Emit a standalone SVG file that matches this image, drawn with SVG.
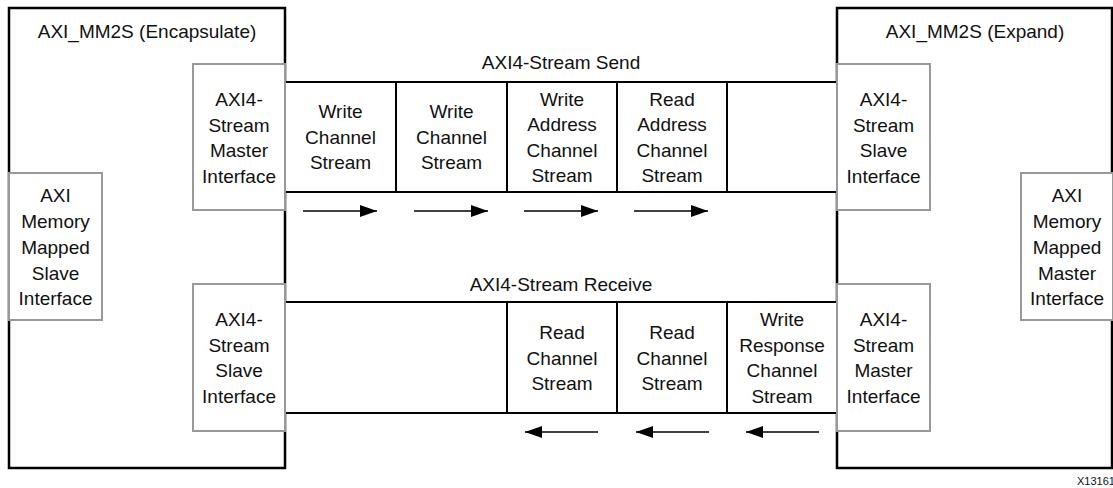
<svg xmlns="http://www.w3.org/2000/svg" width="1113" height="488" viewBox="0 0 1113 488">
  <defs>
    <style>
      .core { fill: #ffffff; stroke: #000000; stroke-width: 2.5; }
      .port { fill: #ffffff; stroke: #999999; stroke-width: 2; }
      .cell { fill: #ffffff; stroke: #000000; stroke-width: 2; }
      .flow { stroke: #000000; stroke-width: 1.5; fill: none; }
      text { font-family: "Liberation Sans", Arial, sans-serif; font-size: 19px; fill: #111111; text-anchor: middle; }
      .tag { font-size: 11px; text-anchor: start; }
    </style>
    <marker id="head" viewBox="0 0 17 12" refX="17" refY="6" markerWidth="17" markerHeight="12" markerUnits="userSpaceOnUse" orient="auto">
      <path d="M0,0 L17,6 L0,12 Z" fill="#000000"/>
    </marker>
  </defs>

  <!-- encapsulating core -->
  <g id="core-encapsulate">
    <rect class="core" x="9" y="8" width="276" height="460"/>
    <text x="147" y="38">AXI_MM2S (Encapsulate)</text>
  </g>

  <!-- expanding core -->
  <g id="core-expand">
    <rect class="core" x="837" y="8" width="275" height="460"/>
    <text x="975" y="38">AXI_MM2S (Expand)</text>
  </g>

  <!-- send stream -->
  <g id="stream-send">
    <text x="561" y="69">AXI4-Stream Send</text>
    <rect class="cell" x="285" y="82" width="552" height="110"/>
  </g>
  <g id="send-write-channel-1">
    <rect class="cell" x="285" y="82" width="111" height="110"/>
    <text x="340.5"><tspan x="340.5" y="118">Write</tspan><tspan x="340.5" y="143.5">Channel</tspan><tspan x="340.5" y="169">Stream</tspan></text>
  </g>
  <g id="send-write-channel-2">
    <rect class="cell" x="396" y="82" width="111" height="110"/>
    <text x="451.5"><tspan x="451.5" y="118">Write</tspan><tspan x="451.5" y="143.5">Channel</tspan><tspan x="451.5" y="169">Stream</tspan></text>
  </g>
  <g id="send-write-address">
    <rect class="cell" x="507" y="82" width="110" height="110"/>
    <text x="562"><tspan x="562" y="105.5">Write</tspan><tspan x="562" y="131">Address</tspan><tspan x="562" y="156.5">Channel</tspan><tspan x="562" y="182">Stream</tspan></text>
  </g>
  <g id="send-read-address">
    <rect class="cell" x="617" y="82" width="110" height="110"/>
    <text x="672"><tspan x="672" y="105.5">Read</tspan><tspan x="672" y="131">Address</tspan><tspan x="672" y="156.5">Channel</tspan><tspan x="672" y="182">Stream</tspan></text>
  </g>
  <g id="send-empty">
    <rect class="cell" x="727" y="82" width="110" height="110"/>
  </g>

  <!-- receive stream -->
  <g id="stream-receive">
    <text x="561" y="291">AXI4-Stream Receive</text>
    <rect class="cell" x="285" y="302" width="552" height="111"/>
  </g>
  <g id="receive-empty">
    <rect class="cell" x="285" y="302" width="222" height="111"/>
  </g>
  <g id="receive-read-channel-1">
    <rect class="cell" x="507" y="302" width="110" height="111"/>
    <text x="562"><tspan x="562" y="339">Read</tspan><tspan x="562" y="364.5">Channel</tspan><tspan x="562" y="390">Stream</tspan></text>
  </g>
  <g id="receive-read-channel-2">
    <rect class="cell" x="617" y="302" width="110" height="111"/>
    <text x="672"><tspan x="672" y="339">Read</tspan><tspan x="672" y="364.5">Channel</tspan><tspan x="672" y="390">Stream</tspan></text>
  </g>
  <g id="receive-write-response">
    <rect class="cell" x="727" y="302" width="110" height="111"/>
    <text x="782"><tspan x="782" y="326">Write</tspan><tspan x="782" y="351.5">Response</tspan><tspan x="782" y="377">Channel</tspan><tspan x="782" y="402.5">Stream</tspan></text>
  </g>

  <!-- interface ports -->
  <g id="port-mm-slave">
    <rect class="port" x="9" y="173" width="93" height="147"/>
    <text x="55.5"><tspan x="55.5" y="202">AXI</tspan><tspan x="55.5" y="228">Memory</tspan><tspan x="55.5" y="254">Mapped</tspan><tspan x="55.5" y="279.5">Slave</tspan><tspan x="55.5" y="305">Interface</tspan></text>
  </g>
  <g id="port-axis-master-left">
    <rect class="port" x="193" y="64" width="92" height="146"/>
    <text x="239"><tspan x="239" y="106">AXI4-</tspan><tspan x="239" y="131.5">Stream</tspan><tspan x="239" y="157">Master</tspan><tspan x="239" y="182.5">Interface</tspan></text>
  </g>
  <g id="port-axis-slave-left">
    <rect class="port" x="193" y="284" width="92" height="147"/>
    <text x="239"><tspan x="239" y="326">AXI4-</tspan><tspan x="239" y="351.5">Stream</tspan><tspan x="239" y="377">Slave</tspan><tspan x="239" y="402.5">Interface</tspan></text>
  </g>
  <g id="port-axis-slave-right">
    <rect class="port" x="837" y="64" width="93" height="146"/>
    <text x="883.5"><tspan x="883.5" y="106">AXI4-</tspan><tspan x="883.5" y="131.5">Stream</tspan><tspan x="883.5" y="157">Slave</tspan><tspan x="883.5" y="182.5">Interface</tspan></text>
  </g>
  <g id="port-axis-master-right">
    <rect class="port" x="837" y="284" width="93" height="147"/>
    <text x="883.5"><tspan x="883.5" y="326">AXI4-</tspan><tspan x="883.5" y="351.5">Stream</tspan><tspan x="883.5" y="377">Master</tspan><tspan x="883.5" y="402.5">Interface</tspan></text>
  </g>
  <g id="port-mm-master">
    <rect class="port" x="1021" y="173" width="92" height="147"/>
    <text x="1067"><tspan x="1067" y="202">AXI</tspan><tspan x="1067" y="228">Memory</tspan><tspan x="1067" y="254">Mapped</tspan><tspan x="1067" y="279.5">Master</tspan><tspan x="1067" y="305">Interface</tspan></text>
  </g>

  <!-- data flow direction -->
  <g id="connectors">
    <line class="flow" x1="303" y1="211" x2="377" y2="211" marker-end="url(#head)"/>
    <line class="flow" x1="414" y1="211" x2="488" y2="211" marker-end="url(#head)"/>
    <line class="flow" x1="524" y1="211" x2="598" y2="211" marker-end="url(#head)"/>
    <line class="flow" x1="634" y1="211" x2="708" y2="211" marker-end="url(#head)"/>
    <line class="flow" x1="598" y1="432" x2="525" y2="432" marker-end="url(#head)"/>
    <line class="flow" x1="709" y1="432" x2="636" y2="432" marker-end="url(#head)"/>
    <line class="flow" x1="819" y1="432" x2="746" y2="432" marker-end="url(#head)"/>
  </g>

  <text class="tag" x="1077" y="485">X13161</text>
</svg>
